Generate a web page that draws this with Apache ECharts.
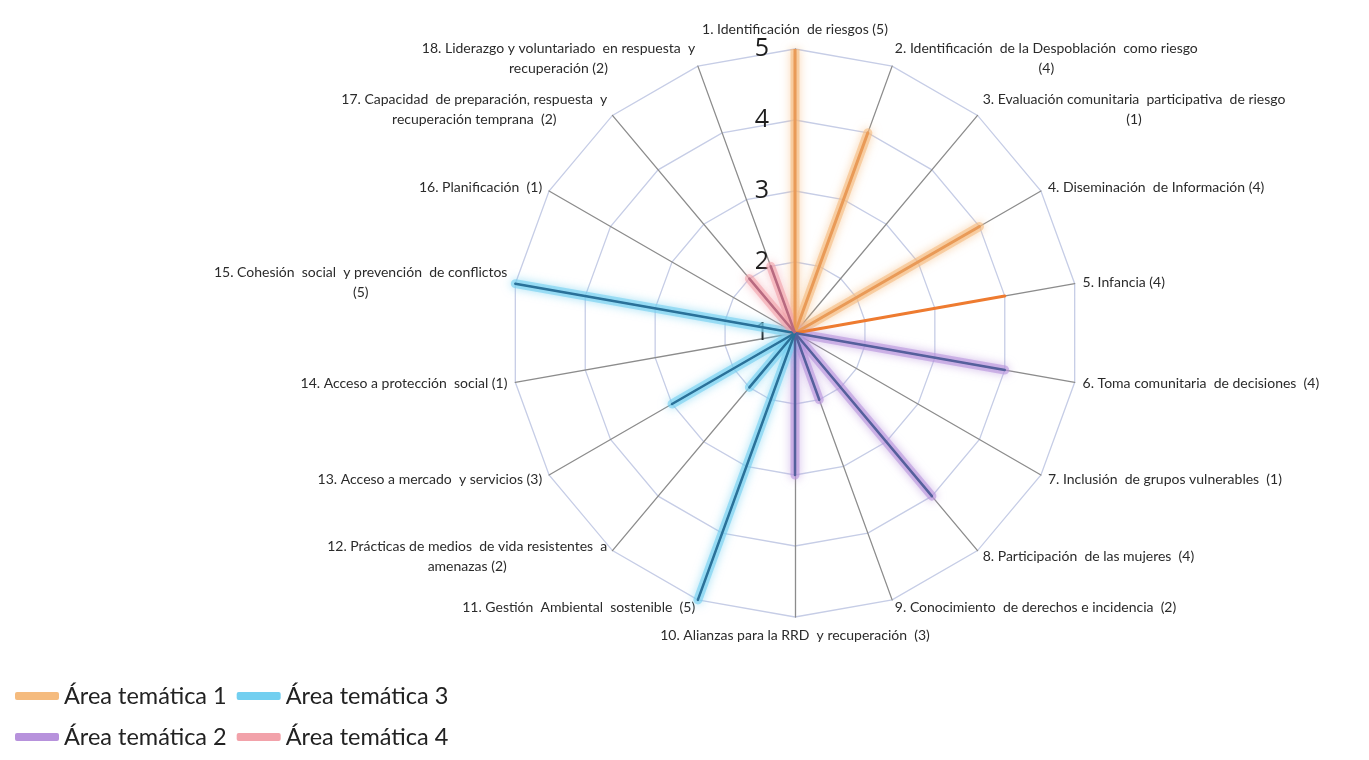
<!DOCTYPE html>
<html>
<head>
<meta charset="utf-8">
<title>Radar áreas temáticas</title>
<script src="https://cdn.jsdelivr.net/npm/echarts@6/dist/echarts.min.js"></script>
<style>
  html, body { margin: 0; padding: 0; background: #fff; }
  #main { width: 1369px; height: 760px; }
</style>
</head>
<body>
<div id="main"></div>
<script>
// indicadores (con salto de línea como en el original)
var indicatorNames = [
  '1. Identificación  de riesgos (5)',
  '2. Identificación  de la Despoblación  como riesgo\n(4)',
  '3. Evaluación comunitaria  participativa  de riesgo\n(1)',
  '4. Diseminación  de Información (4)',
  '5. Infancia (4)',
  '6. Toma comunitaria  de decisiones  (4)',
  '7. Inclusión  de grupos vulnerables  (1)',
  '8. Participación  de las mujeres  (4)',
  '9. Conocimiento  de derechos e incidencia  (2)',
  '10. Alianzas para la RRD  y recuperación  (3)',
  '11. Gestión  Ambiental  sostenible  (5)',
  '12. Prácticas de medios  de vida resistentes  a\namenazas (2)',
  '13. Acceso a mercado  y servicios (3)',
  '14. Acceso a protección  social (1)',
  '15. Cohesión  social  y prevención  de conflictos\n(5)',
  '16. Planificación  (1)',
  '17. Capacidad  de preparación, respuesta  y\nrecuperación temprana  (2)',
  '18. Liderazgo y voluntariado  en respuesta  y\nrecuperación (2)'
];
var scores = [5, 4, 1, 4, 4, 4, 1, 4, 2, 3, 5, 2, 3, 1, 5, 1, 2, 2];
var areaOf = [1, 1, 1, 1, 1, 2, 2, 2, 2, 2, 3, 3, 3, 3, 3, 4, 4, 4];
var areaNames = ['Área temática 1', 'Área temática 2', 'Área temática 3', 'Área temática 4'];
var scaleMin = 1;
var scaleMax = 5;

// colores: linea y resplandor de cada área
var coreColors = ['#e99a57', '#55609c', '#2a7199', '#b86a80'];
var glowColors = ['#f5bb7e', '#b792dc', '#72cff0', '#f2a2aa'];

var myChart = echarts.init(document.getElementById('main'));

// echarts reparte los ejes en sentido antihorario: se invierte el orden
// para que 1..18 queden en sentido horario
var order = [0];
for (var k = indicatorNames.length - 1; k > 0; k--) order.push(k);

var indicators = order.map(function (i, pos) {
  var ind = { name: indicatorNames[i], min: scaleMin, max: scaleMax };
  if (pos === 0) ind.axisLabel = { show: true };
  return ind;
});

// una "espiga" por indicador: valor en su eje, mínimo en los demás
function spike(i) {
  return order.map(function (k) { return k === i ? scores[i] : scaleMin; });
}

var series = [];
areaNames.forEach(function (name, a) {
  var glowData = [], coreData = [];
  for (var i = 0; i < scores.length; i++) {
    if (areaOf[i] !== a + 1) continue;
    var g = { value: spike(i), name: indicatorNames[i] };
    var c = { value: spike(i), name: indicatorNames[i] };
    if (i === 4) {
      // Infancia: linea fina sin resplandor
      g.lineStyle = { opacity: 0 };
      c.lineStyle = { color: '#ee7b30', width: 3 };
    }
    glowData.push(g);
    coreData.push(c);
  }
  series.push({
    name: name,
    type: 'radar',
    symbol: 'none',
    z: 2,
    itemStyle: { color: glowColors[a] },
    lineStyle: {
      color: glowColors[a],
      width: 9,
      opacity: 0.6,
      shadowBlur: 10,
      shadowColor: glowColors[a]
    },
    data: glowData
  });
  series.push({
    name: name,
    type: 'radar',
    symbol: 'none',
    z: 3,
    itemStyle: { color: glowColors[a] },
    lineStyle: { color: coreColors[a], width: a === 0 ? 3 : 2.5 },
    data: coreData
  });
});

var legendBase = {
  left: 10,
  itemGap: 10,
  itemWidth: 44,
  itemHeight: 8,
  icon: 'roundRect',
  textStyle: { fontFamily: 'Lato', fontSize: 23.5, color: '#222' }
};

var option = {
  animation: false,
  legend: [
    Object.assign({}, legendBase, { top: 679, data: [areaNames[0], areaNames[2]] }),
    Object.assign({}, legendBase, { top: 720, data: [areaNames[1], areaNames[3]] })
  ],
  radar: {
    center: [795, 333],
    radius: 284,
    startAngle: 90,
    splitNumber: 4,
    shape: 'polygon',
    indicator: indicators,
    axisName: {
      color: '#2b2b2b',
      fontFamily: 'Lato',
      fontSize: 14,
      formatter: function (v) {
        return v.split('\n').map(function (l) { return '{c|' + l + '}'; }).join('\n');
      },
      rich: { c: { align: 'center', fontFamily: 'Lato', fontSize: 14, color: '#2b2b2b', lineHeight: 20 } }
    },
    nameGap: 8,
    axisLine: { lineStyle: { color: '#8c8c8c', width: 1.3 } },
    splitLine: { lineStyle: { color: '#c6cde6', width: 1.3 } },
    splitArea: { show: false },
    axisTick: { show: false },
    axisLabel: {
      show: false,
      margin: 26,
      fontFamily: 'Open Sans',
      fontSize: 25,
      color: '#1e1e1e'
    }
  },
  series: series
};

myChart.setOption(option);
</script>
</body>
</html>
